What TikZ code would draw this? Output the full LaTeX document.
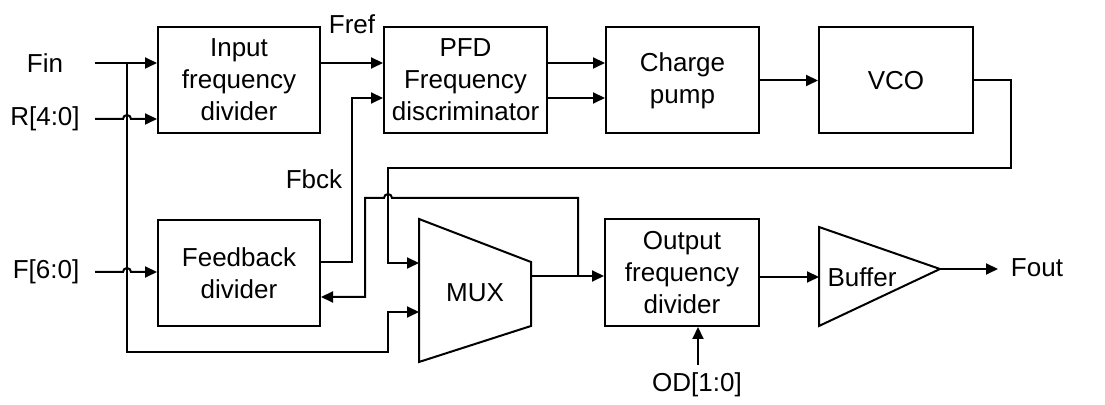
\documentclass[tikz,border=0pt]{standalone}
\usepackage{fontspec}
\setmainfont{Liberation Sans}
\usepackage{tikz}
\usetikzlibrary{positioning, arrows.meta, calc}
\tikzset{
    blk/.style={draw, rectangle, line width=1pt, align=center, minimum width=81pt, minimum height=53pt, inner sep=1pt},
    lbl/.style={inner sep=0pt},
    conn/.style={-{Triangle[length=6pt,width=5.5pt]}, line width=1pt},
    wire/.style={-, line width=1pt},
    shp/.style={draw, line width=1pt, line join=miter},
}
\begin{document}
\begin{tikzpicture}[
        x=0.5pt, y=-0.5pt,
        font=\fontsize{13}{16}\selectfont,
        ]
        \useasboundingbox (0,0) rectangle (1105,405);

        \node[blk] (inDiv) at (239,80) {Input\\frequency\\divider};
        \node[blk, minimum width=81.5pt] (pfd) at (465.5,80) {PFD\\Frequency\\discriminator};
        \node[blk, minimum width=76.5pt] (cp) at (682.5,80.5) {Charge\\pump};
        \node[blk, minimum width=77pt] (vco) at (896,80.5) {VCO};
        \node[blk] (fbDiv) at (239,273) {Feedback\\divider};
        \node[blk, minimum width=77pt, minimum height=53.5pt] (outDiv) at (682,272.5) {Output\\frequency\\divider};

        \draw[shp] (419,219) -- (531,262) -- (531,326) -- (419,362) -- cycle;
        \node[lbl] (muxLbl) at (475,293) {MUX};
        \draw[shp] (819,227) -- (940,269) -- (819,326) -- cycle;
        \node[lbl] (bufLbl) at (862,277) {Buffer};

        \node[lbl] (fin) at (45,63) {Fin};
        \node[lbl] (rin) at (45,119) {R[4:0]};
        \node[lbl] (fin2) at (46,272) {F[6:0]};
        \node[lbl] (fref) at (352,24) {Fref};
        \node[lbl] (fbck) at (314,179) {Fbck};
        \node[lbl] (od) at (697,385) {OD[1:0]};
        \node[lbl] (fout) at (1037,268) {Fout};

        \coordinate (finS) at (95,63);
        \coordinate (rS) at (95,119);
        \coordinate (fS) at (95,272);
        \coordinate (tap) at (127,63);
        \coordinate (fbPfd) at (352,98);
        \coordinate (fbckA) at (352,262);
        \coordinate (loopA) at (388,168);
        \coordinate (muxIn1) at (419,263);
        \coordinate (muxIn2) at (419,312);
        \coordinate (muxOut) at (531,276);
        \coordinate (split) at (578,276);
        \coordinate (retA) at (365,297);
        \coordinate (odS) at (698,365);
        \coordinate (bufIn) at (819,277);
        \coordinate (bufTip) at (940,269);
        \coordinate (foutE) at (998,269);

        \draw[conn] (finS) -- (finS -| inDiv.west);
        \draw[conn] (rS) -- ++(28,0) arc[start angle=180, end angle=360, radius=4] -- (rS -| inDiv.west);
        \draw[conn] (fS) -- ++(28,0) arc[start angle=180, end angle=360, radius=4] -- (fS -| fbDiv.west);
        \draw[conn] (tap) -- ++(0,289) -| ($(muxIn2)+(-31,0)$) -- (muxIn2);

        \draw[conn] (inDiv.east |- finS) -- (pfd.west |- finS);
        \draw[conn] (fbDiv.east |- fbckA) -- (fbckA) |- (pfd.west |- fbPfd);

        \draw[conn] (pfd.east |- finS) -- (cp.west |- finS);
        \draw[conn] (pfd.east |- fbPfd) -- (cp.west |- fbPfd);
        \draw[conn] (cp) -- (vco);

        \draw[conn] (vco.east) -- ++(37,0) |- (loopA) |- (muxIn1);
        \draw[conn] (muxOut) -- (muxOut -| outDiv.west);
        \draw[conn] (split) -- ++(0,-78) -- ++(-186,0) arc[start angle=0, end angle=-180, radius=4] -- (retA |- 0,198) -- (retA) -- (retA -| fbDiv.east);

        \draw[conn] (odS) -- (odS |- outDiv.south);
        \draw[conn] (outDiv.east |- bufIn) -- (bufIn);
        \draw[conn] (bufTip) -- (foutE);
\end{tikzpicture}
\end{document}
